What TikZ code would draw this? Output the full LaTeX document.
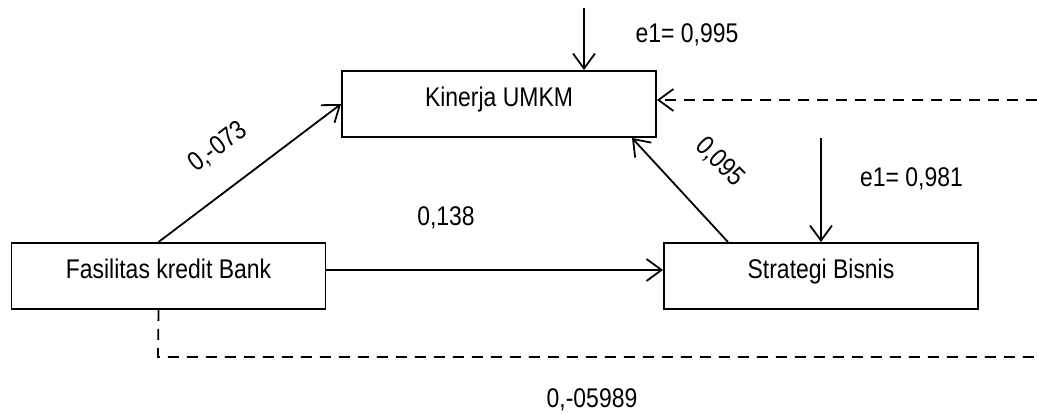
\documentclass[tikz,border=0pt]{standalone}
\usepackage{fontspec}
\setmainfont{Liberation Sans}[FakeStretch=0.85]
\usetikzlibrary{arrows.meta}
\begin{document}
\begin{tikzpicture}[x=1pt,y=-1pt,
  every node/.style={font=\fontsize{27}{32}\selectfont},
  box/.style={draw,line width=1.9pt,minimum width=314pt,minimum height=66pt,inner sep=0pt,text height=20pt,text depth=15pt},
  conn/.style={line width=1.8pt,-{Straight Barb[length=15pt,width=22pt,line width=1.8pt]}},
  dconn/.style={line width=1.8pt,dash pattern=on 11pt off 8pt},
  lbl/.style={inner sep=0pt}]
\useasboundingbox (0,0) rectangle (1037,414);
\node[box] (kin) at (499,104) {Kinerja UMKM};
\node[box] (fas) at (168.5,276) {Fasilitas kredit Bank};
\node[box] (str) at (821,276) {Strategi Bisnis};
\coordinate (e1a) at (584,8);
\coordinate (e2a) at (821,138);
\coordinate (dr) at (1037,100);
\coordinate (bc) at (158,357);
\coordinate (be) at (1037,357);
\draw[conn] (e1a) -- (e1a |- kin.north);
\draw[conn] (e2a) -- (str.north);
\draw[conn] ([xshift=-10pt]fas.north) -- (kin.west);
\draw[conn] ([yshift=6pt]fas.east) -- ([yshift=6pt]str.west);
\draw[conn] ([xshift=-93pt]str.north) -- ([xshift=133pt]kin.south);
\draw[dconn,-{Straight Barb[length=15pt,width=22pt,line width=1.8pt]}] (dr) -- (dr -| kin.east);
\draw[dconn] ([xshift=-10pt]fas.south) -- (bc) -- (be);
\node[lbl] (l1) at (687,35) {e1= 0,995};
\node[lbl] (l2) at (911.5,179) {e1= 0,981};
\node[lbl] (l3) at (446,218) {0,138};
\node[lbl,rotate=37] (l4) at (218,147) {0,-073};
\node[lbl,rotate=-45] (l5) at (720,162) {0,095};
\node[lbl] (l6) at (592,400) {0,-05989};
\end{tikzpicture}
\end{document}
